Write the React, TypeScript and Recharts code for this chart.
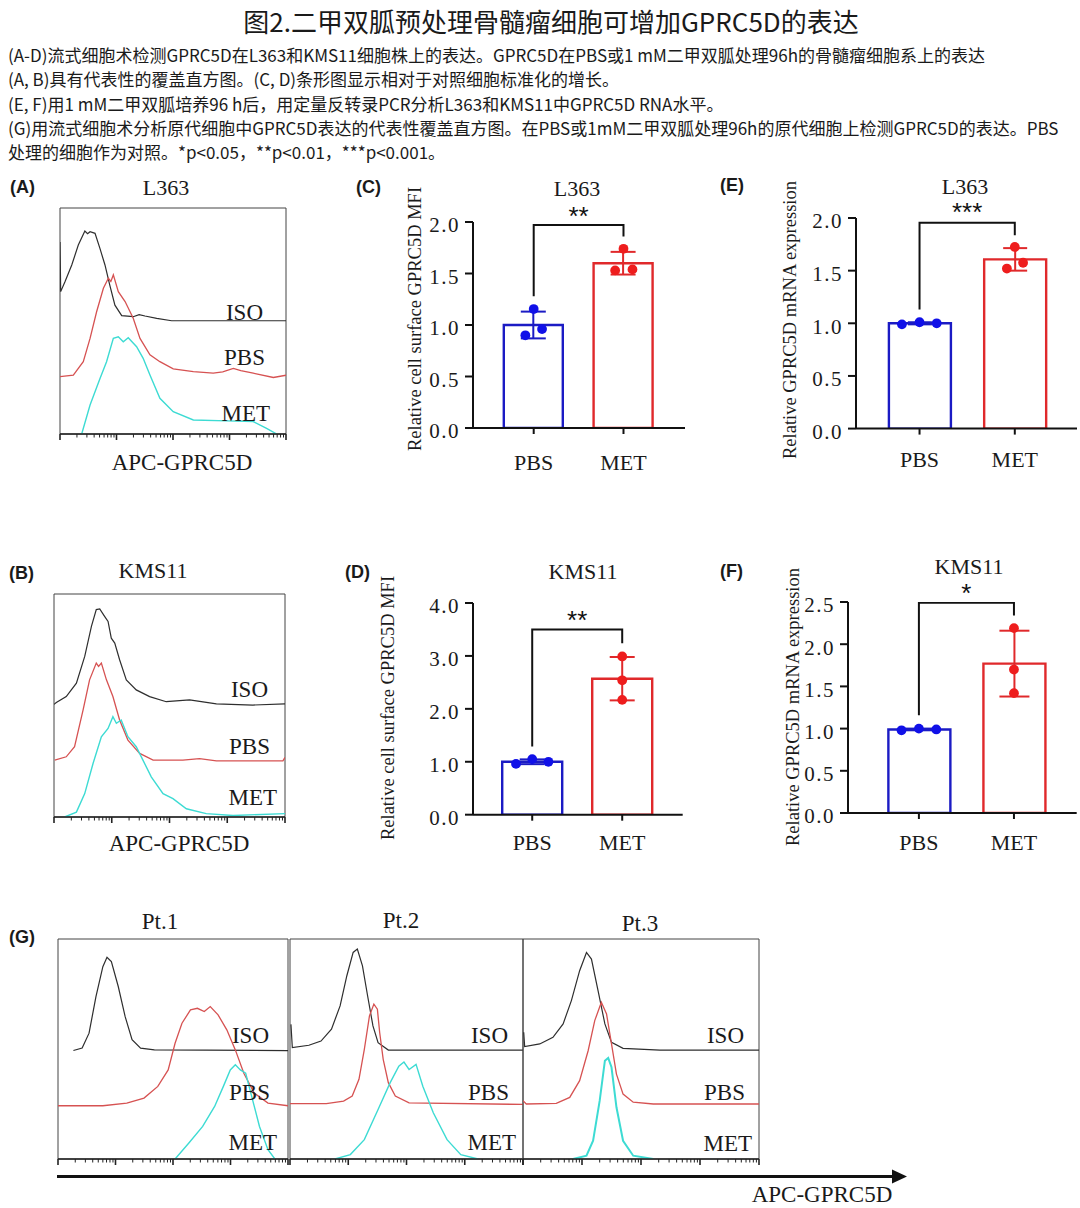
import React from 'react';
import {
  LineChart, Line, ComposedChart, Bar, Cell, ErrorBar, Scatter, XAxis, YAxis, ZAxis,
  ReferenceArea, ReferenceDot,
} from 'recharts';

const SERIF = '"Liberation Serif", "Times New Roman", serif';
const SANS = '"Liberation Sans", Arial, sans-serif';
const CJK = '"Noto Sans CJK SC", "Noto Sans", sans-serif';

const INK = '#1a1a1a';
const BAR_BLUE = '#1b1bc4';
const BAR_RED = '#e0292b';
const DOT_BLUE = '#1010e8';
const DOT_RED = '#ee1d1d';
const H_ISO = '#2e2e2e';
const H_PBS = '#d65252';
const H_MET = '#3ddbd3';

const TITLE = '图2.二甲双胍预处理骨髓瘤细胞可增加GPRC5D的表达';
const CAPTION = [
  '(A-D)流式细胞术检测GPRC5D在L363和KMS11细胞株上的表达。GPRC5D在PBS或1 mM二甲双胍处理96h的骨髓瘤细胞系上的表达',
  '(A, B)具有代表性的覆盖直方图。(C, D)条形图显示相对于对照细胞标准化的增长。',
  '(E, F)用1 mM二甲双胍培养96 h后，用定量反转录PCR分析L363和KMS11中GPRC5D RNA水平。',
  '(G)用流式细胞术分析原代细胞中GPRC5D表达的代表性覆盖直方图。在PBS或1mM二甲双胍处理96h的原代细胞上检测GPRC5D的表达。PBS',
  '处理的细胞作为对照。*p<0.05，**p<0.01，***p<0.001。',
];

// log axis of the flow histograms: 4 decades over a 0-100 box
const DECADES = [0, 25, 50, 75, 100];
const MINOR_STEPS = [7.5, 11.9, 15.1, 17.5, 19.5, 21.1, 22.6, 23.9];
const LOG_TICKS = [...DECADES, ...DECADES.slice(0, 4).flatMap((d) => MINOR_STEPS.map((s) => d + s))];

// histogram curves: [position in box 0-100, height in box 0-100]
const A_ISO = [[0, 85], [0.3, 63], [2.2, 67.4], [5.2, 74.8], [8.1, 83.6], [11, 89.8], [12.2, 88.6], [13.3, 89.5], [15.5, 88.8], [17.7, 82], [19.9, 74.8], [22, 66], [24.3, 57], [27.3, 52.4], [32.4, 51.9], [35, 52.8], [37.6, 52.2], [42.8, 51.2], [49.4, 50.1], [100, 50.1]];
const A_PBS = [[0, 25.4], [5.9, 26], [10.3, 32], [13.3, 42.3], [16.2, 54.1], [19.2, 64.5], [21.4, 68.9], [22.5, 67.5], [23.6, 70.4], [25.8, 63], [28.8, 58.6], [32.4, 51.2], [35.4, 42.3], [39.8, 35], [44.2, 32], [50.1, 28.8], [59, 27.6], [67.8, 26.9], [72, 27.5], [76.7, 29], [80, 28], [85.5, 26.9], [94.4, 25], [100, 26]];
const A_MET = [[9.6, 0], [13.3, 12.8], [17.7, 24.6], [20.6, 32], [23.6, 42.3], [25.8, 43], [28, 40.8], [30.2, 42.6], [33.9, 38.6], [36.8, 33.5], [39.8, 26.1], [44.2, 15.8], [50.1, 9.9], [59, 6.2], [73.8, 5.8], [85.5, 5.5], [91.4, 2.5], [95.9, 0]];

const B_ISO = [[0, 50.5], [1, 51.3], [5.3, 54], [9.7, 60], [13.3, 72], [16.2, 85.5], [18.3, 93], [19.8, 93.3], [21.9, 90], [23.4, 87.7], [24.8, 80.2], [26.3, 78], [28.4, 70.5], [31.3, 61.5], [35.6, 57], [41.4, 54], [48.6, 51.7], [58.7, 52.5], [70.3, 50.7], [86.1, 50.2], [100, 50.7]];
const B_PBS = [[0.3, 25.5], [5.3, 27], [8.9, 31.5], [12.6, 48], [15.4, 61.5], [18.3, 69], [19.3, 67.5], [20.5, 69], [22.7, 61.5], [25.5, 54], [28.4, 43.5], [32, 34.5], [37.1, 28.5], [42.9, 25.5], [55.8, 25.5], [63, 26.2], [70.3, 25.2], [99.1, 25.2], [100, 26.7]];
const B_MET = [[4.6, 0], [9.7, 2.2], [13.3, 10.5], [16.9, 24], [20.5, 36], [23.4, 39.7], [25.5, 45], [27, 42], [29.1, 43.5], [32, 36], [35.6, 31.5], [38.5, 25.5], [42.1, 18], [47.2, 10.5], [51.5, 8.2], [57.3, 3.7], [65.9, 1.5], [77.5, 0.7], [100, 1.5]];

const G1_ISO = [[6.7, 49.3], [10.5, 50.4], [13.5, 57.2], [16.5, 73.8], [19.5, 87.4], [21.3, 91.7], [23.2, 89.7], [26.2, 78.4], [29.2, 64.7], [32.2, 54.2], [35.9, 50.4], [41.9, 49.6], [100, 49.3]];
const G1_PBS = [[0, 24.2], [19.5, 24.2], [29.9, 25.4], [37.4, 27.7], [43.4, 33], [47.9, 40.5], [50.9, 52.6], [53.9, 61.7], [57.6, 67.8], [60.6, 68.5], [63.6, 67], [66.2, 69.3], [69.6, 65.5], [73.4, 58.7], [77.1, 49.6], [80.8, 39], [85.3, 30], [91.3, 25.4], [100, 24.2]];
const G1_MET = [[50.9, 0], [56.9, 7.3], [62.9, 14.8], [68.1, 23.9], [71.9, 33], [74.9, 40.5], [77.1, 42.8], [79.3, 40.5], [81.6, 39], [84.6, 26.9], [87.6, 14.8], [91.3, 4.2], [94.3, 0]];

const G2_ISO = [[0.4, 61.2], [1, 50.6], [8.1, 51.7], [13.3, 53.6], [17.8, 59], [21.5, 69.6], [24.4, 83.3], [27.1, 93.9], [28.9, 95.4], [31.1, 87.8], [33.3, 74.2], [35.6, 60.5], [37.8, 52.9], [42.2, 49.5], [100, 49.5]];
const G2_PBS = [[0, 25.2], [15.6, 25.2], [23, 26.3], [26.7, 28.6], [29.6, 36.2], [31.9, 49.8], [34.1, 65], [36, 70.4], [37.5, 68.1], [38.5, 57.4], [40, 45.3], [42.2, 34.7], [45.2, 28.6], [51.1, 25.5], [100, 24.8]];
const G2_MET = [[19.3, 0], [25.9, 2], [31.9, 8.8], [37.8, 22.5], [43, 34.7], [46.7, 42.2], [48.9, 44.1], [51.1, 40.7], [54.1, 43], [57, 33.1], [61.5, 21], [67.4, 8.8], [73.3, 2], [80.7, 0]];

const G3_ISO = [[0.3, 57.6], [0.7, 51.1], [7.1, 52.3], [12.7, 55.3], [17, 61.4], [20.5, 72], [24, 85.6], [26.9, 93.9], [29, 90.9], [31.8, 76.5], [34.7, 61.4], [37.5, 53], [42.4, 50.3], [58, 49.5], [100, 49.5]];
const G3_PBS = [[0, 26.5], [1.4, 25], [14.1, 25.3], [19.8, 28], [24, 35.6], [27.6, 49.2], [30.4, 62.9], [33.2, 71.2], [35.4, 65.9], [37.5, 52.3], [39.6, 38.6], [42.4, 29.5], [46.7, 25.8], [55.2, 25], [100, 25]];
const G3_MET = [[21.2, 0], [26.9, 1.5], [29.7, 8.3], [32.5, 26.5], [34.7, 44.7], [36.1, 45.9], [37.5, 41.7], [39.6, 23.5], [42.4, 8.3], [46.7, 1.5], [55.2, 0]];

// bar panels
const GROUPS = ['PBS', 'MET'];

const C_MEAN = [1.0, 1.6];
const C_SD = [0.13, 0.11];
const C_PBS = [0.9, 1.155, 0.96];
const C_MET = [1.53, 1.74, 1.54];
const C_PBS_JIT = [-0.093, 0, 0.093];
const C_MET_JIT = [-0.093, 0, 0.1];
const C_BRACKET = [1.28, 1.97, 1.86];

const D_MEAN = [1.0, 2.57];
const D_SD = [0.045, 0.41];
const D_PBS = [0.96, 1.05, 1.0];
const D_MET = [2.99, 2.54, 2.17];
const D_PBS_JIT = [-0.18, 0, 0.18];
const D_MET_JIT = [0, 0, 0];
const D_BRACKET = [1.29, 3.5, 3.24];

const E_MEAN = [1.0, 1.607];
const E_SD = [0.01, 0.107];
const E_PBS = [0.99, 1.01, 1.0];
const E_MET = [1.52, 1.725, 1.575];
const E_PBS_JIT = [-0.185, 0, 0.18];
const E_MET_JIT = [-0.083, 0, 0.087];
const E_BRACKET = [1.13, 1.955, 1.835];

const F_MEAN = [0.99, 1.77];
const F_SD = [0.01, 0.39];
const F_PBS = [0.98, 1.0, 0.99];
const F_MET = [2.19, 1.7, 1.42];
const F_PBS_JIT = [-0.183, 0, 0.183];
const F_MET_JIT = [0, 0, 0];
const F_BRACKET = [1.157, 2.49, 2.34];

const toPts = (arr: number[][]) => arr.map(([u, v]) => ({ u, v }));

function T({ x, y, s, size = 22, font = SERIF, anchor = 'middle', rot = false, weight = 400, color = INK }: any) {
  const tx = anchor === 'start' ? '0' : anchor === 'end' ? '-100%' : '-50%';
  return (
    <div
      style={{
        position: 'absolute', left: x, top: y, whiteSpace: 'nowrap', lineHeight: 1,
        transform: `translate(${tx}, -50%)${rot ? ' rotate(-90deg)' : ''}`,
        fontFamily: font, fontSize: size, fontWeight: weight, color,
      }}
    >
      {s}
    </div>
  );
}

const LogTick = (props: any) => {
  const { x, y, payload } = props;
  const major = DECADES.includes(payload.value);
  return <line x1={x} x2={x} y1={y} y2={y + (major ? 6 : 3.5)} stroke="#222" strokeWidth={major ? 1.6 : 1} />;
};

function Histogram({ left, top, w, h, iso, pbs, met, metW = 1.4 }: any) {
  return (
    <div style={{ position: 'absolute', left: left - 1, top: top - 1 }}>
      <LineChart width={w + 2} height={h + 11} margin={{ top: 1, right: 1, bottom: 0, left: 1 }}>
        <XAxis
          dataKey="u" type="number" domain={[0, 100]} allowDataOverflow ticks={LOG_TICKS} interval={0}
          height={10} tickSize={0} tickMargin={0} tickLine={false} tick={<LogTick />}
          axisLine={{ stroke: '#222', strokeWidth: 1.4 }}
        />
        <YAxis type="number" domain={[0, 100]} allowDataOverflow hide />
        <ReferenceArea x1={0} x2={100} y1={0} y2={100} fill="none" stroke="#444" strokeWidth={1} />
        <Line data={toPts(iso)} dataKey="v" type="linear" stroke={H_ISO} strokeWidth={1.2} dot={false} isAnimationActive={false} />
        <Line data={toPts(pbs)} dataKey="v" type="linear" stroke={H_PBS} strokeWidth={1.3} dot={false} isAnimationActive={false} />
        <Line data={toPts(met)} dataKey="v" type="linear" stroke={H_MET} strokeWidth={metW} dot={false} isAnimationActive={false} />
      </LineChart>
    </div>
  );
}

const AX = { stroke: '#111', strokeWidth: 2 };

function BarPanel({ plotLeft, plotRight, plotTop, plotBottom, yMax, yTicks, xDomain, means, sds, pbsPts, pbsJit, metPts, metJit, bracket, star, starY, barSize, capW, labelGap }: any) {
  const yAxisW = 62;
  const topM = 40;
  const xAxisH = 56;
  const plotW = plotRight - plotLeft;
  const plotH = plotBottom - plotTop;
  const rows = [
    { x: 1, mean: means[0], errPbs: sds[0] },
    { x: 2, mean: means[1], errMet: sds[1] },
  ];
  const pbs = pbsPts.map((y: number, i: number) => ({ x: 1 + pbsJit[i], y }));
  const met = metPts.map((y: number, i: number) => ({ x: 2 + metJit[i], y }));
  const br = [
    { x: 1, y: bracket[0] }, { x: 1, y: bracket[1] }, { x: 2, y: bracket[1] }, { x: 2, y: bracket[2] },
  ];
  const tickStyle = { fontFamily: SERIF, fontSize: 22, fill: INK };
  return (
    <div style={{ position: 'absolute', left: plotLeft - yAxisW, top: plotTop - topM }}>
      <ComposedChart width={yAxisW + plotW + 2} height={topM + plotH + xAxisH} data={rows} margin={{ top: topM, right: 2, bottom: 0, left: 0 }}>
        <XAxis
          dataKey="x" type="number" domain={xDomain} allowDataOverflow ticks={[1, 2]} interval={0}
          tickFormatter={(v: number) => GROUPS[v - 1]} height={xAxisH} axisLine={AX} tickLine={AX}
          tickSize={6} tickMargin={labelGap} tick={tickStyle}
        />
        <XAxis xAxisId="pts" dataKey="x" type="number" domain={xDomain} allowDataOverflow hide />
        <YAxis
          type="number" domain={[0, yMax]} allowDataOverflow ticks={yTicks} interval={0}
          tickFormatter={(v: number) => v.toFixed(1)} width={yAxisW} axisLine={AX} tickLine={AX}
          tickSize={8} tickMargin={5} tick={{ ...tickStyle, fontSize: 21, letterSpacing: 1.5, dy: 3 }}
        />
        <ZAxis range={[75, 75]} />
        <Bar dataKey="mean" barSize={barSize} fill="#fff" strokeWidth={2.4} isAnimationActive={false}>
          <Cell stroke={BAR_BLUE} />
          <Cell stroke={BAR_RED} />
          <ErrorBar dataKey="errPbs" direction="y" width={capW} stroke={BAR_BLUE} strokeWidth={2} />
          <ErrorBar dataKey="errMet" direction="y" width={capW} stroke={BAR_RED} strokeWidth={2} />
        </Bar>
        <Scatter xAxisId="pts" data={pbs} dataKey="y" fill={DOT_BLUE} isAnimationActive={false} />
        <Scatter xAxisId="pts" data={met} dataKey="y" fill={DOT_RED} isAnimationActive={false} />
        <Scatter xAxisId="pts" data={br} dataKey="y" line={{ stroke: '#111', strokeWidth: 2 }} shape={() => <g />} isAnimationActive={false} />
        <ReferenceDot
          xAxisId="pts" x={1.5} y={starY} r={0} ifOverflow="visible"
          label={{ value: star, position: 'center', fontFamily: SANS, fontSize: 26, fill: '#111' }}
        />
      </ComposedChart>
    </div>
  );
}

export default function App() {
  const HL = { size: 23 };
  return (
    <div style={{ position: 'absolute', left: 0, top: 0, width: 1080, height: 1208, background: '#fff', overflow: 'hidden' }}>
      <T x={551} y={21} s={TITLE} size={26} font={CJK} />
      {CAPTION.map((line, i) => (
        <T key={i} x={8} y={[54, 78, 102.5, 127, 151][i]} s={line} size={17} font={CJK} anchor="start" />
      ))}

      {/* panel labels */}
      <T x={10} y={187} s="(A)" size={18} font={SANS} weight={700} anchor="start" />
      <T x={356} y={187} s="(C)" size={18} font={SANS} weight={700} anchor="start" />
      <T x={720} y={185} s="(E)" size={18} font={SANS} weight={700} anchor="start" />
      <T x={9} y={573} s="(B)" size={18} font={SANS} weight={700} anchor="start" />
      <T x={345} y={572} s="(D)" size={18} font={SANS} weight={700} anchor="start" />
      <T x={720} y={571} s="(F)" size={18} font={SANS} weight={700} anchor="start" />
      <T x={9} y={937} s="(G)" size={18} font={SANS} weight={700} anchor="start" />

      {/* A */}
      <T x={166} y={188} s="L363" />
      <Histogram left={60} top={208} w={226} h={226} iso={A_ISO} pbs={A_PBS} met={A_MET} />
      <T x={263} y={312} s="ISO" anchor="end" {...HL} />
      <T x={265} y={357} s="PBS" anchor="end" {...HL} />
      <T x={270} y={413} s="MET" anchor="end" {...HL} />
      <T x={182} y={462} s="APC-GPRC5D" {...HL} />

      {/* B */}
      <T x={153} y={571} s="KMS11" />
      <Histogram left={54} top={594} w={231} h={223} iso={B_ISO} pbs={B_PBS} met={B_MET} />
      <T x={268} y={689} s="ISO" anchor="end" {...HL} />
      <T x={270} y={746} s="PBS" anchor="end" {...HL} />
      <T x={277} y={797} s="MET" anchor="end" {...HL} />
      <T x={179} y={843} s="APC-GPRC5D" {...HL} />

      {/* C */}
      <T x={577} y={189} s="L363" />
      <T x={415} y={319} s="Relative cell surface GPRC5D MFI" size={18.5} rot />
      <BarPanel
        plotLeft={473} plotRight={685} plotTop={222.3} plotBottom={428.3} yMax={2} yTicks={[0, 0.5, 1, 1.5, 2]}
        xDomain={[0.324, 2.685]} means={C_MEAN} sds={C_SD} pbsPts={C_PBS} pbsJit={C_PBS_JIT} metPts={C_MET} metJit={C_MET_JIT}
        bracket={C_BRACKET} star="**" starY={2.065} barSize={59} capW={12.5} labelGap={20}
      />

      {/* D */}
      <T x={583} y={572} s="KMS11" />
      <T x={388} y={708} s="Relative cell surface GPRC5D MFI" size={18.5} rot />
      <BarPanel
        plotLeft={473.3} plotRight={683} plotTop={603.3} plotBottom={815} yMax={4} yTicks={[0, 1, 2, 3, 4]}
        xDomain={[0.342, 2.672]} means={D_MEAN} sds={D_SD} pbsPts={D_PBS} pbsJit={D_PBS_JIT} metPts={D_MET} metJit={D_MET_JIT}
        bracket={D_BRACKET} star="**" starY={3.68} barSize={60} capW={12.5} labelGap={14}
      />

      {/* E */}
      <T x={965} y={187} s="L363" />
      <T x={790} y={320} s="Relative  GPRC5D mRNA expression" size={18.5} rot />
      <BarPanel
        plotLeft={856} plotRight={1077} plotTop={217.7} plotBottom={428.3} yMax={2} yTicks={[0, 0.5, 1, 1.5, 2]}
        xDomain={[0.333, 2.653]} means={E_MEAN} sds={E_SD} pbsPts={E_PBS} pbsJit={E_PBS_JIT} metPts={E_MET} metJit={E_MET_JIT}
        bracket={E_BRACKET} star="***" starY={2.06} barSize={62} capW={12} labelGap={17}
      />

      {/* F */}
      <T x={969} y={567} s="KMS11" />
      <T x={793} y={707} s="Relative  GPRC5D mRNA expression" size={18.5} rot />
      <BarPanel
        plotLeft={848.3} plotRight={1077} plotTop={601.7} plotBottom={812.7} yMax={2.5} yTicks={[0, 0.5, 1, 1.5, 2, 2.5]}
        xDomain={[0.254, 2.66]} means={F_MEAN} sds={F_SD} pbsPts={F_PBS} pbsJit={F_PBS_JIT} metPts={F_MET} metJit={F_MET_JIT}
        bracket={F_BRACKET} star="*" starY={2.61} barSize={62} capW={15} labelGap={15}
      />

      {/* G */}
      <T x={160} y={921} s="Pt.1" {...HL} />
      <T x={401} y={920} s="Pt.2" {...HL} />
      <T x={640} y={923} s="Pt.3" {...HL} />
      <Histogram left={58} top={939} w={230} h={220} iso={G1_ISO} pbs={G1_PBS} met={G1_MET} />
      <Histogram left={290} top={939} w={233} h={220} iso={G2_ISO} pbs={G2_PBS} met={G2_MET} />
      <Histogram left={523} top={939} w={236} h={220} iso={G3_ISO} pbs={G3_PBS} met={G3_MET} metW={2} />
      <T x={269} y={1035} s="ISO" anchor="end" {...HL} />
      <T x={270} y={1092} s="PBS" anchor="end" {...HL} />
      <T x={277} y={1142} s="MET" anchor="end" {...HL} />
      <T x={508} y={1035} s="ISO" anchor="end" {...HL} />
      <T x={509} y={1092} s="PBS" anchor="end" {...HL} />
      <T x={516} y={1142} s="MET" anchor="end" {...HL} />
      <T x={744} y={1035} s="ISO" anchor="end" {...HL} />
      <T x={745} y={1092} s="PBS" anchor="end" {...HL} />
      <T x={752} y={1143} s="MET" anchor="end" {...HL} />
      <svg style={{ position: 'absolute', left: 0, top: 1160 }} width={920} height={30}>
        <line x1={57} x2={896} y1={16.5} y2={16.5} stroke="#111" strokeWidth={3} />
        <polygon points="892,9.5 907,16.5 892,23.5" fill="#111" />
      </svg>
      <T x={822} y={1194} s="APC-GPRC5D" {...HL} />
    </div>
  );
}
